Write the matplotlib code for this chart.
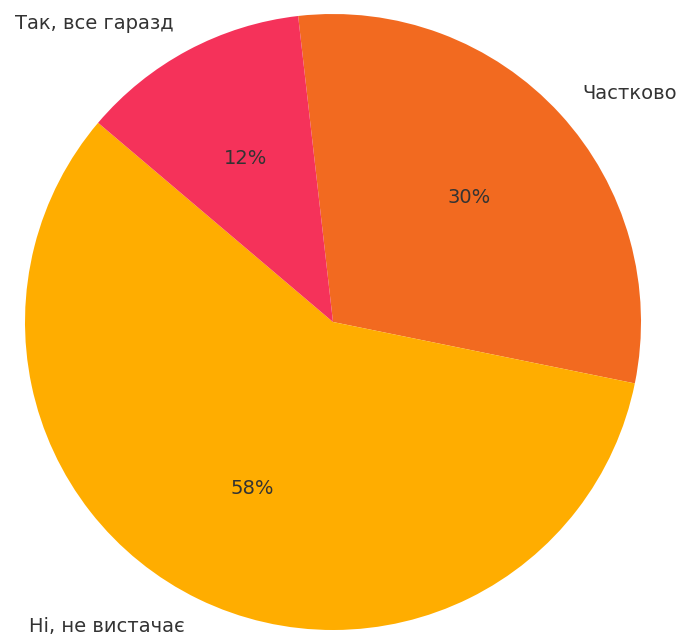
import matplotlib
matplotlib.use("Agg")
import matplotlib.pyplot as plt

labels = ["Частково", "Ні, не вистачає", "Так, все гаразд"]
shares = [30, 58, 12]
colors = ["#F26A20", "#FFAD00", "#F5325A"]

fig = plt.figure(figsize=(6.81, 6.38), dpi=100)
ax = fig.add_axes([25 / 681, 8 / 638, 616 / 681, 616 / 638])

wedges, texts, autotexts = ax.pie(
    shares,
    labels=labels,
    colors=colors,
    autopct="%1.0f%%",
    startangle=96.5,
    counterclock=False,
    labeldistance=1.1,
    pctdistance=0.6,
    textprops={"fontsize": 14, "color": "#333333"},
)
ax.set_xlim(-1, 1)
ax.set_ylim(-1, 1)
ax.set_aspect("equal")
ax.axis("off")

fig.savefig("out.png", dpi=100)
